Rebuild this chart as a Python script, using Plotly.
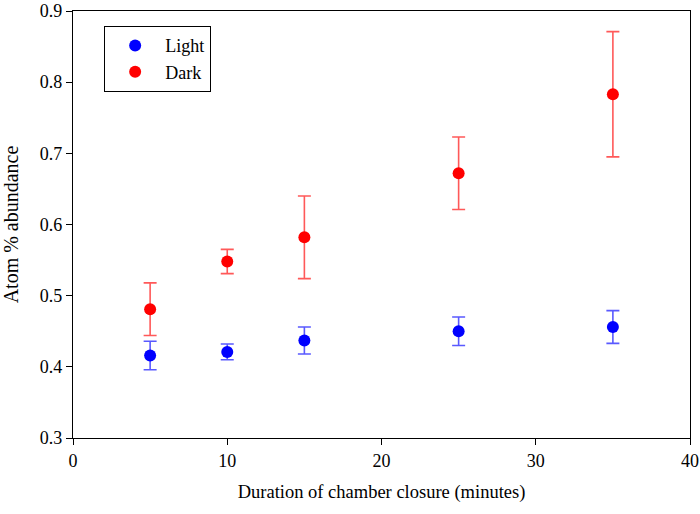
import plotly.graph_objects as go

durations = [5, 10, 15, 25, 35]
light_mean = [0.416, 0.421, 0.437, 0.450, 0.456]
light_err = [0.020, 0.011, 0.019, 0.020, 0.023]
dark_mean = [0.481, 0.548, 0.582, 0.672, 0.783]
dark_err = [0.037, 0.017, 0.058, 0.051, 0.088]

x_ticks = [0, 10, 20, 30, 40]
y_ticks = [0.3, 0.4, 0.5, 0.6, 0.7, 0.8, 0.9]

font_family = "Liberation Serif, Times New Roman, serif"

fig = go.Figure()
fig.add_trace(go.Scatter(
    x=durations, y=light_mean, mode="markers", name="Light",
    marker=dict(color="#0000ff", size=12),
    error_y=dict(type="data", array=light_err, visible=True,
                 color="rgba(60,60,255,0.85)", thickness=1.6, width=6.5),
))
fig.add_trace(go.Scatter(
    x=durations, y=dark_mean, mode="markers", name="Dark",
    marker=dict(color="#ff0000", size=12),
    error_y=dict(type="data", array=dark_err, visible=True,
                 color="rgba(255,60,60,0.85)", thickness=1.6, width=6.5),
))

fig.update_layout(
    width=700, height=514,
    margin=dict(l=73, r=10, t=11, b=76, autoexpand=False),
    paper_bgcolor="white", plot_bgcolor="white",
    font=dict(family=font_family, size=18, color="black"),
    showlegend=True,
    legend=dict(
        x=0.05, y=0.965, xanchor="left", yanchor="top",
        bordercolor="black", borderwidth=1.3, bgcolor="white",
        font=dict(size=18, family=font_family),
        itemwidth=50, tracegroupgap=0,
    ),
)
fig.update_xaxes(
    range=[0, 40], tickvals=x_ticks, ticktext=[str(v) for v in x_ticks],
    ticks="outside", ticklen=6, tickwidth=1.3, tickcolor="black",
    showline=True, linecolor="black", linewidth=1.3, mirror=True,
    showgrid=False, zeroline=False, automargin=False,
    ticklabeloverflow="allow",
    title=dict(text="Duration of chamber closure (minutes)", font=dict(size=18.5), standoff=15),
    tickfont=dict(size=18),
)
fig.update_yaxes(
    range=[0.3, 0.9], tickvals=y_ticks, ticktext=[f"{v:.1f}" for v in y_ticks],
    ticks="outside", ticklen=6, tickwidth=1.3, tickcolor="black",
    showline=True, linecolor="black", linewidth=1.3, mirror=True,
    showgrid=False, zeroline=False, automargin=False,
    ticklabeloverflow="allow",
    title=dict(text="Atom % abundance", font=dict(size=20), standoff=15),
    tickfont=dict(size=18),
)

fig.write_html(
    "out.html",
    config={"displayModeBar": False},
    post_script="document.body.style.margin='0';document.body.style.padding='0';",
)
